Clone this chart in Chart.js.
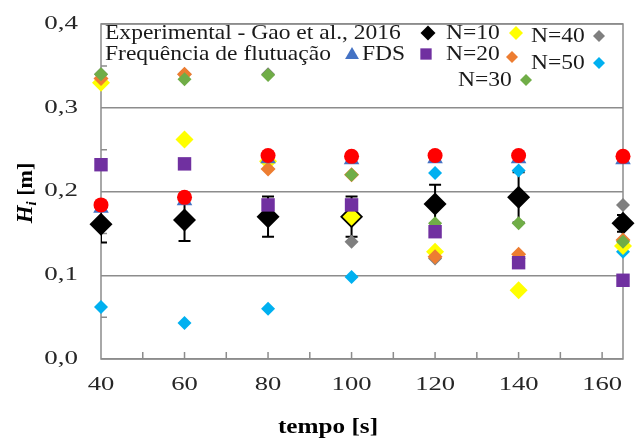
<!DOCTYPE html>
<html>
<head>
<meta charset="utf-8">
<script src="https://cdn.jsdelivr.net/npm/chart.js@4.4.0/dist/chart.umd.min.js"></script>
<style>
  html, body { margin: 0; padding: 0; background: #fff; }
</style>
</head>
<body>
<canvas id="grafico" width="635" height="442"></canvas>
<script>
// dados
const tempos = [40, 60, 80, 100, 120, 140, 165];
const experimental = [0.161, 0.166, 0.17, 0.17, 0.185, 0.193, 0.162];
const experimentalErro = [0.022, 0.025, 0.024, 0.024, 0.023, 0.03, 0.01];
const circulos = [0.184, 0.193, 0.243, 0.242, 0.243, 0.243, 0.242]; // pontos vermelhos, sem legenda
const frequencia = [0.18, 0.189, 0.239, 0.238, 0.239, 0.239, 0.238];
const fds = [0.232, 0.233, 0.184, 0.184, 0.152, 0.115, 0.094];
const n10 = [0.33, 0.262, 0.236, 0.17, 0.128, 0.082, 0.135];
const n20 = [0.335, 0.34, 0.227, 0.22, 0.122, 0.125, 0.142];
const n30 = [0.34, 0.334, 0.339, 0.22, 0.162, 0.162, 0.14];
const n40 = [0.34, 0.34, 0.34, 0.14, 0.12, 0.12, 0.184];
const n50 = [0.062, 0.043, 0.06, 0.098, 0.222, 0.225, 0.128];
const xTicks = [40, 60, 80, 100, 120, 140, 160];
const yTicks = [0, 0.1, 0.2, 0.3, 0.4];

const serif = '"Liberation Serif", "Times New Roman", serif';

function pts(arr) {
  return tempos.map((t, i) => ({ x: t, y: arr[i] }));
}

function serie(label, arr, color, style, radius, order) {
  return {
    label: label,
    data: pts(arr),
    backgroundColor: color,
    borderColor: color,
    borderWidth: 0,
    pointStyle: style,
    pointRadius: radius,
    pointHoverRadius: radius,
    order: order,
    clip: false
  };
}

const datasets = [
  serie('', circulos, '#ff0000', 'circle', 7.5, 0),
  serie('Frequência de flutuação', frequencia, '#4472c4', 'triangle', 9, 1),
  serie('FDS', fds, '#7030a0', 'rect', 9.5, 2),
  serie('N=30', n30, '#70ad47', 'rectRot', 7, 3),
  serie('N=20', n20, '#ed7d31', 'rectRot', 7.5, 4),
  serie('N=10', n10, '#ffff00', 'rectRot', 9, 5),
  serie('N=40', n40, '#7f7f7f', 'rectRot', 7, 6),
  serie('Experimental - Gao et al., 2016', experimental, '#000000', 'rectRot', 11.5, 7),
  serie('N=50', n50, '#00b0f0', 'rectRot', 7, 8)
];

// itens da legenda: texto, posicao do texto, marcador
const legendaItens = [
  { text: 'Experimental - Gao et al., 2016', x: 105, y: 33, mx: 428, my: 33, color: '#000000', style: 'rectRot', r: 7.5 },
  { text: 'N=10', x: 446, y: 33, mx: 516, my: 33, color: '#ffff00', style: 'rectRot', r: 7 },
  { text: 'N=40', x: 531, y: 36, mx: 599, my: 36, color: '#7f7f7f', style: 'rectRot', r: 6 },
  { text: 'Frequência de flutuação', x: 105, y: 54, mx: 352, my: 55, color: '#4472c4', style: 'triangle', r: 8 },
  { text: 'FDS', x: 362, y: 54, mx: 426, my: 54, color: '#7030a0', style: 'rect', r: 8 },
  { text: 'N=20', x: 446, y: 54, mx: 512, my: 57, color: '#ed7d31', style: 'rectRot', r: 6 },
  { text: 'N=50', x: 531, y: 63, mx: 599, my: 63, color: '#00b0f0', style: 'rectRot', r: 6 },
  { text: 'N=30', x: 458, y: 80, mx: 526, my: 80, color: '#70ad47', style: 'rectRot', r: 6 }
];

function textoEsticado(ctx, text, x, y, sx, align) {
  ctx.save();
  ctx.translate(x, y);
  ctx.scale(sx, 1);
  ctx.textAlign = align || 'left';
  ctx.fillText(text, 0, 0);
  ctx.restore();
}

const moldura = {
  id: 'moldura',
  beforeDatasetsDraw(chart) {
    const { ctx, chartArea: a, scales: { x, y } } = chart;
    ctx.save();
    ctx.strokeStyle = '#8c8c8c';
    ctx.lineWidth = 1.5;
    ctx.strokeRect(a.left, a.top, a.right - a.left, a.bottom - a.top);
    // pequenos tracos internos
    ctx.beginPath();
    for (let t = 50; t <= 160; t += 10) {
      const px = x.getPixelForValue(t);
      ctx.moveTo(px, a.bottom);
      ctx.lineTo(px, a.bottom - 7);
    }
    for (let v = 0.05; v < 0.4; v += 0.1) {
      const py = y.getPixelForValue(v);
      ctx.moveTo(a.left, py);
      ctx.lineTo(a.left + 6, py);
    }
    ctx.stroke();

    // barras de erro
    ctx.save();
    ctx.beginPath();
    ctx.rect(a.left, a.top, a.right - a.left, a.bottom - a.top);
    ctx.clip();
    ctx.strokeStyle = '#000';
    ctx.lineWidth = 2;
    ctx.beginPath();
    tempos.forEach((t, i) => {
      const px = x.getPixelForValue(t);
      const top = y.getPixelForValue(experimental[i] + experimentalErro[i]);
      const bot = y.getPixelForValue(experimental[i] - experimentalErro[i]);
      ctx.moveTo(px, top); ctx.lineTo(px, bot);
      ctx.moveTo(px - 6, top); ctx.lineTo(px + 6, top);
      ctx.moveTo(px - 6, bot); ctx.lineTo(px + 6, bot);
    });
    ctx.stroke();
    ctx.restore();
    ctx.restore();
  }
};

const textos = {
  id: 'textos',
  afterDraw(chart) {
    const { ctx, chartArea: a, scales: { x, y } } = chart;
    ctx.save();
    ctx.textBaseline = 'middle';

    // rotulos dos eixos (letra esticada como no original)
    ctx.fillStyle = '#262626';
    ctx.font = '19px ' + serif;
    x.ticks.forEach(t => {
      const px = x.getPixelForValue(t.value);
      textoEsticado(ctx, String(t.value), px, a.bottom + 26, 1.4, 'center');
    });
    y.ticks.forEach(t => {
      const py = y.getPixelForValue(t.value);
      textoEsticado(ctx, t.value.toFixed(1).replace('.', ','), a.left - 23, py, 1.42, 'right');
    });

    // legenda
    ctx.font = '21px ' + serif;
    legendaItens.forEach(it => {
      ctx.fillStyle = '#1a1a1a';
      textoEsticado(ctx, it.text, it.x, it.y, 1.12);
      ctx.fillStyle = it.color;
      Chart.helpers.drawPoint(ctx, { pointStyle: it.style, radius: it.r, rotation: 0, borderWidth: 0 }, it.mx, it.my);
    });

    // titulo do eixo x
    ctx.fillStyle = '#000';
    ctx.font = 'bold 21px ' + serif;
    textoEsticado(ctx, 'tempo [s]', 328, 428, 1.2, 'center');

    // titulo do eixo y: H_i [m]
    ctx.translate(26, 193);
    ctx.rotate(-Math.PI / 2);
    ctx.textAlign = 'left';
    const fH = 'italic bold 23px ' + serif;
    const fi = 'italic bold 15px ' + serif;
    const fm = 'bold 22px ' + serif;
    ctx.font = fH; const wH = ctx.measureText('H').width;
    ctx.font = fi; const wi = ctx.measureText('i').width;
    ctx.font = fm; const wm = ctx.measureText(' [m]').width;
    let cx = -(wH + wi + wm) / 2;
    ctx.font = fH; ctx.fillText('H', cx, 0); cx += wH;
    ctx.font = fi; ctx.fillText('i', cx, 6); cx += wi;
    ctx.font = fm; ctx.fillText(' [m]', cx, 0);
    ctx.restore();
  }
};

new Chart(document.getElementById('grafico'), {
  type: 'scatter',
  data: { datasets: datasets },
  options: {
    responsive: false,
    animation: false,
    events: [],
    layout: { padding: { top: 24, right: 12, left: 0, bottom: 0 } },
    plugins: { legend: { display: false }, tooltip: { enabled: false } },
    scales: {
      x: {
        type: 'linear',
        min: 40,
        max: 165,
        afterFit(s) { s.height = 83; s.paddingLeft = 0; s.paddingRight = 0; },
        afterBuildTicks(s) { s.ticks = xTicks.map(v => ({ value: v })); },
        ticks: { display: false },
        grid: { display: false, drawTicks: false },
        border: { display: false }
      },
      y: {
        min: 0,
        max: 0.4,
        afterFit(s) { s.width = 101; s.paddingTop = 0; s.paddingBottom = 0; },
        afterBuildTicks(s) { s.ticks = yTicks.map(v => ({ value: v })); },
        ticks: { display: false },
        grid: { color: '#8c8c8c', lineWidth: 1.5, drawTicks: false },
        border: { display: false }
      }
    }
  },
  plugins: [moldura, textos]
});
</script>
</body>
</html>
